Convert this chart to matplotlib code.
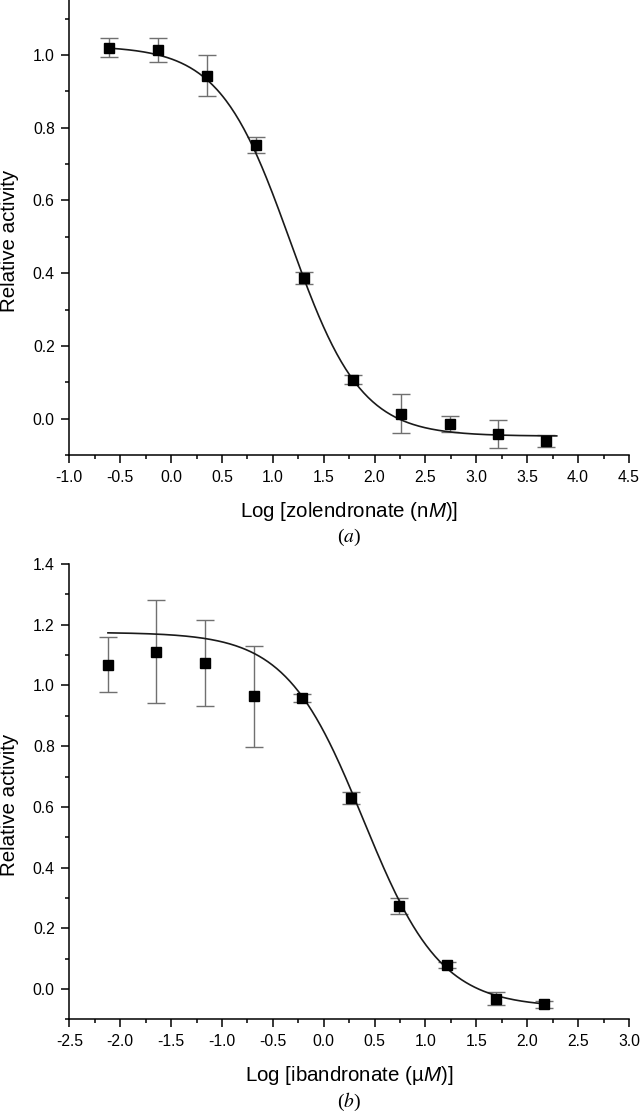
import numpy as np
import matplotlib.pyplot as plt
from matplotlib.ticker import MultipleLocator

plt.rcParams['font.family'] = ['Liberation Sans', 'DejaVu Sans']
plt.rcParams['mathtext.fontset'] = 'custom'
plt.rcParams['mathtext.rm'] = 'Liberation Sans'
plt.rcParams['mathtext.it'] = 'Liberation Sans:italic'

# (a) zolendronate, log [nM]
zol_log = [-0.607, -0.127, 0.351, 0.832, 1.306, 1.785, 2.261, 2.738, 3.211, 3.687]
zol_act = [1.020, 1.014, 0.943, 0.752, 0.386, 0.107, 0.014, -0.014, -0.042, -0.061]
zol_err = [0.027, 0.033, 0.057, 0.023, 0.016, 0.013, 0.053, 0.022, 0.038, 0.016]
# dose-response fit: top, bottom, log x0, hill slope, x range
zol_fit = [1.025, -0.048, 1.17, 1.25]
zol_fit_range = [-0.607, 3.79]

# (b) ibandronate, log [uM]
iba_log = [-2.120, -1.645, -1.164, -0.689, -0.214, 0.264, 0.741, 1.213, 1.690, 2.164]
iba_act = [1.069, 1.111, 1.074, 0.964, 0.958, 0.628, 0.273, 0.078, -0.031, -0.050]
iba_err = [0.092, 0.169, 0.140, 0.167, 0.013, 0.020, 0.027, 0.010, 0.020, 0.012]
iba_fit = [1.175, -0.060, 0.39, 1.14]
iba_fit_range = [-2.12, 2.19]


def dose_resp(x, top, bottom, x0, p):
    return bottom + (top - bottom) / (1 + 10 ** ((x - x0) * p))


def draw_panel(ax, xs, ys, errs, fit, fit_range, xlim, ylim, xlabel):
    ax.errorbar(xs, ys, yerr=errs, fmt='none', ecolor='#707070', elinewidth=1.0,
                capsize=6.5, capthick=1.0, zorder=2)
    xc = np.linspace(fit_range[0], fit_range[1], 300)
    ax.plot(xc, dose_resp(xc, *fit), color='#1a1a1a', lw=1.2, zorder=3)
    ax.plot(xs, ys, 's', color='black', markersize=6.7, zorder=4)

    ax.set_xlim(xlim)
    ax.set_ylim(ylim)
    ax.xaxis.set_major_locator(MultipleLocator(0.5))
    ax.xaxis.set_minor_locator(MultipleLocator(0.25))
    ax.yaxis.set_major_locator(MultipleLocator(0.2))
    ax.yaxis.set_minor_locator(MultipleLocator(0.1))
    ax.xaxis.set_major_formatter(lambda v, pos: f'{v:.1f}')
    ax.yaxis.set_major_formatter(lambda v, pos: f'{v:.1f}')

    for s in ['top', 'right']:
        ax.spines[s].set_visible(False)
    for s in ['left', 'bottom']:
        ax.spines[s].set_linewidth(1.1)
    ax.tick_params(which='major', direction='out', length=5.5, width=1.1,
                   labelsize=11.3, pad=5)
    ax.tick_params(which='minor', direction='out', length=3, width=1.1)

    ax.set_ylabel('Relative activity', fontsize=14.8, va='center')
    ax.yaxis.set_label_coords(-0.1077, 0.471)
    ax.set_xlabel(xlabel, fontsize=14.8, va='center')


fig = plt.figure(figsize=(6.4, 11.12), dpi=100)

ax1 = fig.add_axes([0.1083, 0.5908, 0.8745, 0.4092])
draw_panel(ax1, zol_log, zol_act, zol_err, zol_fit, zol_fit_range,
           (-1.0, 4.5), (-0.1, 1.151), r'Log [zolendronate (n$\mathit{M}$)]')
ax1.xaxis.set_label_coords(0.5, -0.1246)

ax2 = fig.add_axes([0.1083, 0.0832, 0.8745, 0.4096])
draw_panel(ax2, iba_log, iba_act, iba_err, iba_fit, iba_fit_range,
           (-2.5, 3.0), (-0.1, 1.4), r'Log [ibandronate (µ$\mathit{M}$)]')
ax2.xaxis.set_label_coords(0.5, -0.122)

fig.text(0.545, 0.5165, r'($\mathit{a}$)', family='Liberation Serif',
         math_fontfamily='stix', fontsize=14, ha='center', va='center')
fig.text(0.545, 0.0093, r'($\mathit{b}$)', family='Liberation Serif',
         math_fontfamily='stix', fontsize=14, ha='center', va='center')

fig.savefig('out.png', dpi=100)
